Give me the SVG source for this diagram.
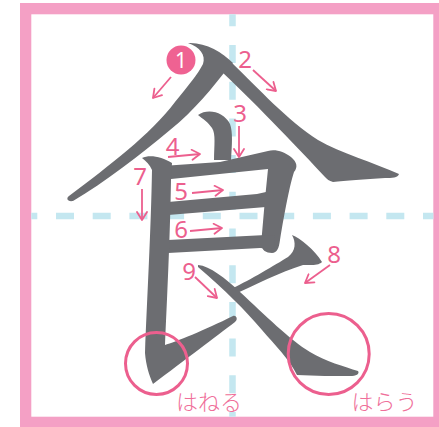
<svg xmlns="http://www.w3.org/2000/svg" width="439" height="427" viewBox="0 0 439 427">
<style>
.guide{stroke:#c4e7f0;stroke-width:6.5;stroke-dasharray:18 18.7;fill:none}
.ink{fill:#6c6d71}
.arr{stroke:#ec5f8e;stroke-width:1.8;fill:none;marker-end:url(#ah)}
.num{font-family:"Noto Sans","DejaVu Sans",sans-serif;font-size:24px;fill:#ec5f8e;text-anchor:middle}
.jp{font-family:"Noto Sans CJK JP",sans-serif;font-size:22px;font-weight:300;fill:#ef6f9a;text-anchor:middle}
.ring{fill:none;stroke:#ec5f8e;stroke-width:3}
</style>
<defs>
<marker id="ah" viewBox="-10 -6 12 12" markerWidth="12" markerHeight="12" refX="0" refY="0" orient="auto" markerUnits="userSpaceOnUse">
<path d="M-8,-5 L0,0 L-8,5" fill="none" stroke="#ec5f8e" stroke-width="1.8" stroke-linecap="round" stroke-linejoin="round"/>
</marker>
</defs>
<g id="frame">
<rect x="20" y="3" width="430" height="430" fill="#f4a0c5"/>
<rect x="31.3" y="14.3" width="402" height="402.4" fill="#ffffff"/>
<line class="guide" x1="31.3" y1="216" x2="433.3" y2="216" stroke-dashoffset="12"/>
<line class="guide" x1="232.5" y1="14.3" x2="232.5" y2="416.7" stroke-dashoffset="6"/>
</g>
<g id="character">
<path id="s1" class="ink" d="M188,43 C205,42 222,52 233,63 L228,68 C212,88 195,110 170,130 C140,155 105,182 73,201 C67,202 66,198 69,196 C110,165 150,135 175,102 C188,86 198,74 203,64 C206,55 200,47 188,43 Z"/>
<path id="s2" class="ink" d="M231,62 C258,88 288,121 318,140 C340,153 375,163 399,174 C398,178 392,178 385,178 C365,179 345,181 333,182 C329,181 327,179 325,177 C300,150 260,108 222,72 Z"/>
<path id="s3" class="ink" d="M198,115 C208,108 224,112 230,124 C233,132 232,145 231,160 L214,160 C214,146 216,134 212,128 C208,122 203,119 198,115 Z"/>
<path id="s4" class="ink" d="M162,166 L220,162 L268,151 C276,149 284,152 291,157 C297,162 298,167 294,172 C290,184 285,210 280,240 C279,248 277,253 272,253 C266,253 262,250 261,245 L265,199 L268,169 L171,179 Z"/>
<path id="s5" class="ink" d="M168,202 L257,194 L266,192 L266,207 L168,215 Z"/>
<path id="s6" class="ink" d="M168,240 L266,235 L275,236 L274,249 L260,248 L168,253 Z"/>
<path id="s7" class="ink" d="M142,158 C150,154 162,157 172,163 L171,180 C170,240 167,300 165,345 C175,342 205,330 233,316 C237,315 238,320 235,322 C215,337 185,360 153,384 C149,375 146,365 145,353 C147,300 151,230 152,170 C150,165 146,161 142,158 Z"/>
<path id="s8" class="ink" d="M292,235 C300,238 315,250 322,262 C318,266 310,265 303,265 C280,272 255,285 235,294 L233,288 C250,280 275,265 288,257 C296,251 296,242 292,235 Z"/>
<path id="s9" class="ink" d="M198,265 C210,266 225,278 240,292 C265,315 290,340 310,352 C325,361 345,367 358,371 C360,374 356,376 350,376 C335,376 315,376 297,375 C290,360 275,345 262,330 C245,310 225,290 198,267 Z"/>
</g>
<g id="connectors">
<line class="arr" x1="171" y1="77" x2="153" y2="98"/>
<line class="arr" x1="253" y1="70" x2="276" y2="91"/>
<line class="arr" x1="239" y1="126" x2="239" y2="157"/>
<line class="arr" x1="168" y1="157" x2="200" y2="154"/>
<line class="arr" x1="192" y1="193" x2="223" y2="190"/>
<line class="arr" x1="190" y1="231" x2="222" y2="228"/>
<line class="arr" x1="142" y1="189" x2="142" y2="220"/>
<line class="arr" x1="330" y1="265" x2="305" y2="283"/>
<line class="arr" x1="195" y1="277" x2="217" y2="298"/>
</g>
<g id="labels">
<g id="n1"><circle cx="181" cy="60" r="14.5" fill="#ef6292"/><text class="num" x="181" y="68" style="fill:#ffffff;font-size:21px">1</text></g>
<text id="n2" class="num" x="245" y="68">2</text>
<text id="n3" class="num" x="240" y="122">3</text>
<text id="n4" class="num" x="172.5" y="155">4</text>
<text id="n5" class="num" x="181" y="200">5</text>
<text id="n6" class="num" x="181" y="238">6</text>
<text id="n7" class="num" x="140" y="185">7</text>
<text id="n8" class="num" x="334" y="263">8</text>
<text id="n9" class="num" x="189" y="280">9</text>
</g>
<g id="callouts">
<circle class="ring" cx="156.5" cy="363.5" r="31"/>
<circle class="ring" cx="328.7" cy="354" r="40.5"/>
<text class="jp" x="209" y="410">はねる</text>
<text class="jp" x="384.5" y="410">はらう</text>
</g>
</svg>
